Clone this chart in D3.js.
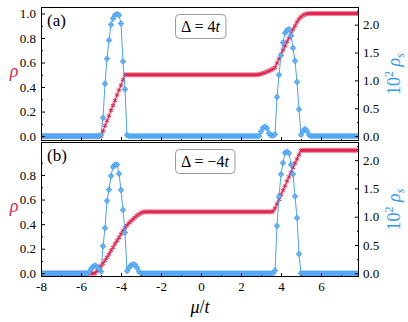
<!DOCTYPE html>
<html>
<head>
<meta charset="utf-8">
<script src="https://cdn.jsdelivr.net/npm/d3@7"></script>
<style>
  body { margin: 0; background: #fff; }
  svg text { font-family: "Liberation Serif", "DejaVu Serif", serif; }
</style>
</head>
<body>
<div id="chart"></div>
<script>
// chemical potential mu/t (shared x values)
var mu = [
  -8, -7.9, -7.8, -7.7, -7.6, -7.5, -7.4, -7.3, -7.2, -7.1,
  -7, -6.9, -6.8, -6.7, -6.6, -6.5, -6.4, -6.3, -6.2, -6.1,
  -6, -5.9, -5.8, -5.7, -5.6, -5.5, -5.4, -5.3, -5.2, -5.1,
  -5, -4.9, -4.8, -4.7, -4.6, -4.5, -4.4, -4.3, -4.2, -4.1,
  -4, -3.9, -3.8, -3.7, -3.6, -3.5, -3.4, -3.3, -3.2, -3.1,
  -3, -2.9, -2.8, -2.7, -2.6, -2.5, -2.4, -2.3, -2.2, -2.1,
  -2, -1.9, -1.8, -1.7, -1.6, -1.5, -1.4, -1.3, -1.2, -1.1,
  -1, -0.9, -0.8, -0.7, -0.6, -0.5, -0.4, -0.3, -0.2, -0.1,
  0, 0.1, 0.2, 0.3, 0.4, 0.5, 0.6, 0.7, 0.8, 0.9,
  1, 1.1, 1.2, 1.3, 1.4, 1.5, 1.6, 1.7, 1.8, 1.9,
  2, 2.1, 2.2, 2.3, 2.4, 2.5, 2.6, 2.7, 2.8, 2.9,
  3, 3.1, 3.2, 3.3, 3.4, 3.5, 3.6, 3.7, 3.8, 3.9,
  4, 4.1, 4.2, 4.3, 4.4, 4.5, 4.6, 4.7, 4.8, 4.9,
  5, 5.1, 5.2, 5.3, 5.4, 5.5, 5.6, 5.7, 5.8, 5.9,
  6, 6.1, 6.2, 6.3, 6.4, 6.5, 6.6, 6.7, 6.8, 6.9,
  7, 7.1, 7.2, 7.3, 7.4, 7.5, 7.6, 7.7, 7.8, 7.9
];

// panel (a), Delta = 4t : density rho
var rhoA = [
  0, 0, 0, 0, 0, 0, 0, 0, 0, 0,
  0, 0, 0, 0, 0, 0, 0, 0, 0, 0,
  0, 0, 0, 0, 0, 0, 0, 0, 0, 0,
  0, 0.04, 0.085, 0.125, 0.165, 0.21, 0.25, 0.29, 0.335, 0.375,
  0.415, 0.46, 0.5, 0.5, 0.5, 0.5, 0.5, 0.5, 0.5, 0.5,
  0.5, 0.5, 0.5, 0.5, 0.5, 0.5, 0.5, 0.5, 0.5, 0.5,
  0.5, 0.5, 0.5, 0.5, 0.5, 0.5, 0.5, 0.5, 0.5, 0.5,
  0.5, 0.5, 0.5, 0.5, 0.5, 0.5, 0.5, 0.5, 0.5, 0.5,
  0.5, 0.5, 0.5, 0.5, 0.5, 0.5, 0.5, 0.5, 0.5, 0.5,
  0.5, 0.5, 0.5, 0.5, 0.5, 0.5, 0.5, 0.5, 0.5, 0.5,
  0.5, 0.5, 0.5, 0.5, 0.5, 0.5, 0.5, 0.5, 0.5, 0.503,
  0.507, 0.512, 0.518, 0.525, 0.532, 0.54, 0.548, 0.56, 0.595, 0.63,
  0.665, 0.7, 0.735, 0.77, 0.8, 0.835, 0.87, 0.9, 0.93, 0.955,
  0.972, 0.985, 0.993, 0.998, 1, 1, 1, 1, 1, 1,
  1, 1, 1, 1, 1, 1, 1, 1, 1, 1,
  1, 1, 1, 1, 1, 1, 1, 1, 1, 1
];

// panel (a): 10^2 rho_s
var rhoSA = [
  0, 0, 0, 0, 0, 0, 0, 0, 0, 0,
  0, 0, 0, 0, 0, 0, 0, 0, 0, 0,
  0, 0, 0, 0, 0, 0, 0, 0, 0, 0,
  0.02, 0.33, 0.94, 1.39, 1.72, 2.0, 2.11, 2.17, 2.19, 2.17,
  2.02, 1.34, 0.84, 0.02, 0, 0, 0, 0, 0, 0,
  0, 0, 0, 0, 0, 0, 0, 0, 0, 0,
  0, 0, 0, 0, 0, 0, 0, 0, 0, 0,
  0, 0, 0, 0, 0, 0, 0, 0, 0, 0,
  0, 0, 0, 0, 0, 0, 0, 0, 0, 0,
  0, 0, 0, 0, 0, 0, 0, 0, 0, 0,
  0, 0, 0, 0, 0, 0, 0, 0, 0, 0,
  0.08, 0.15, 0.17, 0.14, 0.05, 0.01, 0.01, 0.03, 0.7, 1.1,
  1.45, 1.68, 1.85, 1.9, 1.92, 1.8, 1.58, 1.35, 0.97, 0.48,
  0.02, 0.09, 0.13, 0.09, 0.02, 0, 0, 0, 0, 0,
  0, 0, 0, 0, 0, 0, 0, 0, 0, 0,
  0, 0, 0, 0, 0, 0, 0, 0, 0, 0
];

// panel (b), Delta = -4t : density rho
var rhoB = [
  0, 0, 0, 0, 0, 0, 0, 0, 0, 0,
  0, 0, 0, 0, 0, 0, 0, 0, 0, 0,
  0, 0, 0, 0, 0, 0, 0, 0, 0.02, 0.04,
  0.06, 0.08, 0.105, 0.13, 0.155, 0.185, 0.21, 0.24, 0.265, 0.29,
  0.32, 0.345, 0.37, 0.39, 0.41, 0.425, 0.44, 0.455, 0.47, 0.48,
  0.49, 0.497, 0.5, 0.5, 0.5, 0.5, 0.5, 0.5, 0.5, 0.5,
  0.5, 0.5, 0.5, 0.5, 0.5, 0.5, 0.5, 0.5, 0.5, 0.5,
  0.5, 0.5, 0.5, 0.5, 0.5, 0.5, 0.5, 0.5, 0.5, 0.5,
  0.5, 0.5, 0.5, 0.5, 0.5, 0.5, 0.5, 0.5, 0.5, 0.5,
  0.5, 0.5, 0.5, 0.5, 0.5, 0.5, 0.5, 0.5, 0.5, 0.5,
  0.5, 0.5, 0.5, 0.5, 0.5, 0.5, 0.5, 0.5, 0.5, 0.5,
  0.5, 0.5, 0.5, 0.5, 0.5, 0.5, 0.505, 0.53, 0.565, 0.6,
  0.64, 0.675, 0.71, 0.75, 0.785, 0.82, 0.86, 0.895, 0.93, 0.965,
  1, 1, 1, 1, 1, 1, 1, 1, 1, 1,
  1, 1, 1, 1, 1, 1, 1, 1, 1, 1,
  1, 1, 1, 1, 1, 1, 1, 1, 1, 1
];

// panel (b): 10^2 rho_s
var rhoSB = [
  0, 0, 0, 0, 0, 0, 0, 0, 0, 0,
  0, 0, 0, 0, 0, 0, 0, 0, 0, 0,
  0, 0, 0, 0, 0.02, 0.08, 0.12, 0.14, 0.12, 0.08,
  0.03, 0.48, 0.8, 1.28, 1.48, 1.72, 1.88, 1.92, 1.92, 1.76,
  1.47, 1.12, 0.72, 0.04, 0.1, 0.14, 0.16, 0.15, 0.1, 0.03,
  0, 0, 0, 0, 0, 0, 0, 0, 0, 0,
  0, 0, 0, 0, 0, 0, 0, 0, 0, 0,
  0, 0, 0, 0, 0, 0, 0, 0, 0, 0,
  0, 0, 0, 0, 0, 0, 0, 0, 0, 0,
  0, 0, 0, 0, 0, 0, 0, 0, 0, 0,
  0, 0, 0, 0, 0, 0, 0, 0, 0, 0,
  0, 0, 0, 0, 0, 0, 0, 0.05, 0.84, 1.36,
  1.75, 1.95, 2.13, 2.15, 2.12, 1.92, 1.75, 1.36, 0.98, 0.34,
  0, 0, 0, 0, 0, 0, 0, 0, 0, 0,
  0, 0, 0, 0, 0, 0, 0, 0, 0, 0,
  0, 0, 0, 0, 0, 0, 0, 0, 0, 0
];

// tick labels
var xTicks = [-8, -6, -4, -2, 0, 2, 4, 6];
var leftTicksA = [0, 0.2, 0.4, 0.6, 0.8, 1.0];
var leftTicksB = [0, 0.2, 0.4, 0.6, 0.8];
var rightTicks = [0, 0.5, 1.0, 1.5, 2.0];
var panelTags = ["(a)", "(b)"];
var deltaValues = ["4", "\u22124"];

var red = "#e2234d";
var blue = "#3398f5";
var serif = "Liberation Serif, DejaVu Serif, serif";

var svgWidth = 408;
var svgHeight = 322;
var plotLeft = 41, plotRight = 359;

var svg = d3.select("#chart")
  .append("svg")
  .attr("width", svgWidth)
  .attr("height", svgHeight)
  .attr("font-family", serif);

var x = d3.scaleLinear().domain([-8, 7.9]).range([plotLeft, plotRight]);

var panels = [
  { id: "clipA", y0: 7, y1: 141, rho: rhoA, rhoS: rhoSA, left: [-0.04, 1.053], right: [-0.088, 2.317], leftTicks: leftTicksA, showX: false },
  { id: "clipB", y0: 142, y1: 277, rho: rhoB, rhoS: rhoSB, left: [-0.03, 1.068], right: [-0.065, 2.32], leftTicks: leftTicksB, showX: true }
];

function styleAxis(sel) {
  sel.attr("font-family", serif);
  sel.select(".domain").remove();
  sel.selectAll("text")
    .attr("font-family", serif)
    .attr("font-size", 13)
    .attr("fill", "#000");
  sel.selectAll("line").attr("stroke", "#000");
}

panels.forEach(function(p, k) {
  var g = svg.append("g");
  var yL = d3.scaleLinear().domain(p.left).range([p.y1, p.y0]);
  var yR = d3.scaleLinear().domain(p.right).range([p.y1, p.y0]);

  svg.append("clipPath").attr("id", p.id)
    .append("rect")
    .attr("x", plotLeft).attr("y", p.y0)
    .attr("width", plotRight - plotLeft).attr("height", p.y1 - p.y0);

  var pts = mu.map(function(m, i) { return { m: m, r: p.rho[i], s: p.rhoS[i] }; });

  var plot = g.append("g").attr("clip-path", "url(#" + p.id + ")");

  // density rho (left axis)
  plot.append("path")
    .datum(pts)
    .attr("d", d3.line().x(d => x(d.m)).y(d => yL(d.r)))
    .attr("fill", "none")
    .attr("stroke", red)
    .attr("stroke-width", 1);

  plot.selectAll(".rmark")
    .data(pts)
    .enter()
    .append("path")
    .attr("class", "rmark")
    .attr("transform", d => `translate(${x(d.m)},${yL(d.r)})`)
    .attr("d", d3.symbol(d3.symbolAsterisk, 18))
    .attr("fill", "none")
    .attr("stroke", red)
    .attr("stroke-width", 1);

  // superfluid density (right axis)
  plot.append("path")
    .datum(pts)
    .attr("d", d3.line().x(d => x(d.m)).y(d => yR(d.s)))
    .attr("fill", "none")
    .attr("stroke", blue)
    .attr("stroke-width", 0.9);

  var bm = plot.selectAll(".bmark")
    .data(pts)
    .enter()
    .append("g")
    .attr("class", "bmark")
    .attr("transform", d => `translate(${x(d.m)},${yR(d.s)})`);
  bm.append("circle")
    .attr("r", 2.1)
    .attr("fill", "#a9d4fb")
    .attr("stroke", blue)
    .attr("stroke-width", 0.8);
  bm.append("path")
    .attr("d", d3.symbol(d3.symbolPlus, 14))
    .attr("fill", "none")
    .attr("stroke", blue)
    .attr("stroke-width", 0.7);

  // frame
  g.append("rect")
    .attr("x", plotLeft + 0.5).attr("y", p.y0 + 0.5)
    .attr("width", plotRight - plotLeft - 1).attr("height", p.y1 - p.y0 - 1)
    .attr("fill", "none")
    .attr("stroke", "#000")
    .attr("stroke-width", 1);

  // left axis
  g.append("g")
    .attr("transform", `translate(${plotLeft},0)`)
    .call(d3.axisLeft(yL).tickValues(p.leftTicks).tickFormat(d3.format(".1f"))
      .tickSizeInner(-4).tickSizeOuter(0).tickPadding(5))
    .call(styleAxis);
  g.append("g")
    .attr("transform", `translate(${plotLeft},0)`)
    .call(d3.axisLeft(yL).tickValues(d3.range(0.1, p.left[1], 0.2)).tickFormat("")
      .tickSizeInner(-2).tickSizeOuter(0))
    .call(styleAxis);

  // right axis
  g.append("g")
    .attr("transform", `translate(${plotRight},0)`)
    .call(d3.axisRight(yR).tickValues(rightTicks).tickFormat(d3.format(".1f"))
      .tickSizeInner(-4).tickSizeOuter(0).tickPadding(4))
    .call(styleAxis);
  g.append("g")
    .attr("transform", `translate(${plotRight},0)`)
    .call(d3.axisRight(yR).tickValues([0.25, 0.75, 1.25, 1.75, 2.25]).tickFormat("")
      .tickSizeInner(-2).tickSizeOuter(0))
    .call(styleAxis);

  // bottom axis
  g.append("g")
    .attr("transform", `translate(0,${p.y1})`)
    .call(d3.axisBottom(x).tickValues(xTicks).tickFormat(p.showX ? (d => String(d)) : "")
      .tickSizeInner(-4).tickSizeOuter(0).tickPadding(5))
    .call(styleAxis);
  g.append("g")
    .attr("transform", `translate(0,${p.y1})`)
    .call(d3.axisBottom(x).tickValues([-7, -5, -3, -1, 1, 3, 5, 7]).tickFormat("")
      .tickSizeInner(-2).tickSizeOuter(0))
    .call(styleAxis);

  // panel tag
  g.append("text")
    .attr("x", 47)
    .attr("y", p.y0 + 19)
    .attr("font-size", 17)
    .text(panelTags[k]);

  // Delta annotation box
  var box = g.append("rect");
  var t = g.append("text")
    .attr("x", 181)
    .attr("y", p.y0 + 25)
    .attr("font-size", 16);
  t.append("tspan").text("\u0394 = " + deltaValues[k]);
  t.append("tspan").attr("font-style", "italic").text("t");
  var bb = t.node().getBBox();
  box.attr("x", bb.x - 5.5)
    .attr("y", bb.y - 3.5)
    .attr("width", bb.width + 11)
    .attr("height", bb.height + 7)
    .attr("rx", 4)
    .attr("fill", "#fff")
    .attr("stroke", "#999")
    .attr("stroke-width", 1);

  // left label rho
  g.append("text")
    .attr("x", 14)
    .attr("y", p.y0 + 70)
    .attr("text-anchor", "middle")
    .attr("font-size", 18)
    .attr("font-style", "italic")
    .attr("fill", red)
    .text("\u03c1");

  // right label 10^2 rho_s
  var rl = g.append("text")
    .attr("transform", `translate(400,${(p.y0 + p.y1) / 2}) rotate(-90)`)
    .attr("text-anchor", "middle")
    .attr("font-size", 18)
    .attr("fill", blue);
  rl.append("tspan").text("10");
  rl.append("tspan").attr("font-size", 12).attr("dy", -7).text("2");
  rl.append("tspan").attr("dy", 7).text(" ");
  rl.append("tspan").attr("font-style", "italic").text("\u03c1");
  rl.append("tspan").attr("font-style", "italic").attr("font-size", 12).attr("dy", 4).text("s");
});

// x axis label
var xl = svg.append("text")
  .attr("x", 200)
  .attr("y", 313)
  .attr("text-anchor", "middle")
  .attr("font-size", 18);
xl.append("tspan").attr("font-style", "italic").text("\u03bc");
xl.append("tspan").text("/");
xl.append("tspan").attr("font-style", "italic").text("t");
</script>
</body>
</html>
